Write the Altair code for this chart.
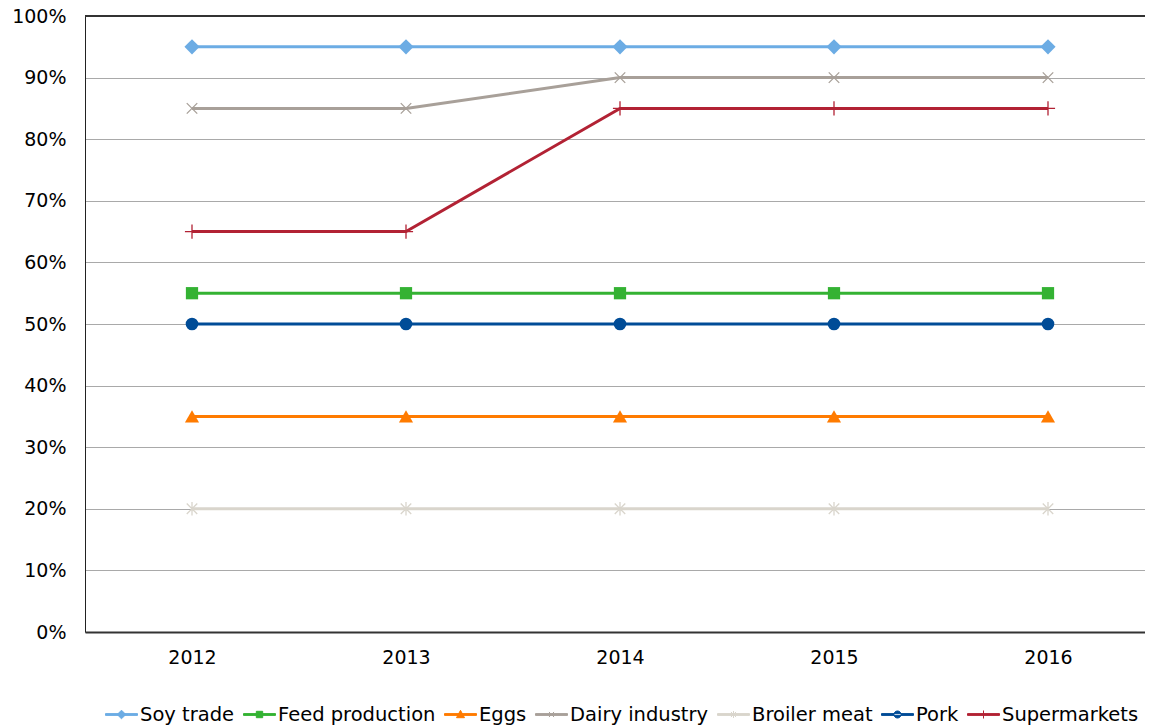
import altair as alt
import pandas as pd

years = [2012, 2013, 2014, 2015, 2016]
series = ["Soy trade", "Feed production", "Eggs", "Dairy industry",
          "Broiler meat", "Pork", "Supermarkets"]
soy_trade = [0.95, 0.95, 0.95, 0.95, 0.95]
feed_production = [0.55, 0.55, 0.55, 0.55, 0.55]
eggs = [0.35, 0.35, 0.35, 0.35, 0.35]
dairy_industry = [0.85, 0.85, 0.90, 0.90, 0.90]
broiler_meat = [0.20, 0.20, 0.20, 0.20, 0.20]
pork = [0.50, 0.50, 0.50, 0.50, 0.50]
supermarkets = [0.65, 0.65, 0.85, 0.85, 0.85]
y_ticks = [0, 0.1, 0.2, 0.3, 0.4, 0.5, 0.6, 0.7, 0.8, 0.9, 1.0]

values = [soy_trade, feed_production, eggs, dairy_industry,
          broiler_meat, pork, supermarkets]
rows = []
for s, vals in zip(series, values):
    for yr, v in zip(years, vals):
        rows.append({"year": yr, "series": s, "value": v})
df = pd.DataFrame(rows)

colors = ["#6CACE4", "#34B233", "#FF7B00", "#A8A099",
          "#D9D5CC", "#004C97", "#B22234"]

PLOT_W = 1060
STEP = 214
x_domain = [years[0] - 0.5, years[0] - 0.5 + PLOT_W / STEP]

# marker styles per series (chart)
X_PATH = "M-1,-1L1,1M-1,1L1,-1"
AST_PATH = "M-1,-1L1,1M-1,1L1,-1M0,-1.3V1.3"
PLUS_PATH = "M-1,0H1M0,-1V1"
marker_styles = [
    dict(shape="diamond", filled=True, size=230),
    dict(shape="square", filled=True, size=150),
    dict(shape="triangle-up", filled=True, size=200),
    dict(shape=X_PATH, filled=False, size=110, strokeWidth=1.3),
    dict(shape=AST_PATH, filled=False, size=110, strokeWidth=1.3),
    dict(shape="circle", filled=True, size=160),
    dict(shape=PLUS_PATH, filled=False, size=200, strokeWidth=1.3),
]

# legend symbols: line + marker in one path
LINE = "M-1,-0.055H1V0.055H-1Z"
legend_paths = [
    LINE + "M0,-0.27L0.27,0L0,0.27L-0.27,0Z",
    LINE + "M-0.2,-0.2H0.2V0.2H-0.2Z",
    LINE + "M0,-0.26L0.25,0.2H-0.25Z",
    LINE + "M-0.16,-0.16L0.16,0.16M-0.16,0.16L0.16,-0.16",
    LINE + "M-0.16,-0.16L0.16,0.16M-0.16,0.16L0.16,-0.16M0,-0.22V0.22",
    LINE + "M-0.22,0A0.22,0.22,0,1,0,0.22,0A0.22,0.22,0,1,0,-0.22,0Z",
    LINE + "M-0.22,0H0.22M0,-0.25V0.25",
]

FONT = "DejaVu Sans"

x_enc = alt.X("year:Q", scale=alt.Scale(domain=x_domain, nice=False, zero=False),
              axis=alt.Axis(title=None, labelAngle=0, ticks=False, values=years,
                            format="d", labelPadding=16, domainColor="#333333",
                            domainWidth=2, grid=False))
y_enc = alt.Y("value:Q", scale=alt.Scale(domain=[0, 1]),
              axis=alt.Axis(title=None, format=".0%", values=y_ticks,
                            ticks=False, labelPadding=19,
                            domainColor="#222222", domainWidth=1,
                            grid=True, gridColor="#A9A9A9", gridWidth=1))
color_scale = alt.Scale(domain=series, range=colors)
col_enc = alt.Color("series:N", scale=color_scale, sort=series)

base = alt.Chart(df)

top_rule = base.mark_rule(color="#333333", strokeWidth=1.5).encode(
    y=alt.datum(1.0))

lines = base.mark_line(strokeWidth=3).encode(
    x=x_enc, y=y_enc, color=col_enc, detail="series:N")

point_layers = []
for s, st in zip(series, marker_styles):
    kw = dict(st)
    kw.setdefault("strokeWidth", 1)
    point_layers.append(
        base.transform_filter(alt.datum.series == s)
        .mark_point(opacity=1, **kw)
        .encode(x=x_enc, y=y_enc, color=col_enc)
    )

legend_layer = base.transform_filter(alt.datum.value < 0).mark_point(
    filled=True, opacity=1, strokeWidth=1).encode(
    x=x_enc, y=y_enc,
    color=col_enc,
    stroke=alt.Stroke("series:N", scale=alt.Scale(domain=series, range=colors), sort=series),
    shape=alt.Shape("series:N", scale=alt.Scale(domain=series, range=legend_paths), sort=series),
)

chart = alt.layer(top_rule, lines, *point_layers, legend_layer).properties(
    width=PLOT_W, height=616,
    autosize=alt.AutoSizeParams(type="none"),
    padding={"left": 77, "top": 8, "right": 0, "bottom": 94},
).configure_view(stroke=None).configure_axis(
    labelFont=FONT, labelFontSize=19, labelColor="#000000"
).configure_legend(
    orient="none", legendX=20, legendY=682, direction="horizontal",
    title=None, labelFont=FONT, labelFontSize=19.5, labelColor="#000000",
    symbolSize=1024, symbolStrokeWidth=1, symbolOpacity=1,
    labelOffset=2, columnPadding=6, padding=0,
)

chart.save("out.html", embed_options={"renderer": "svg", "actions": False})
